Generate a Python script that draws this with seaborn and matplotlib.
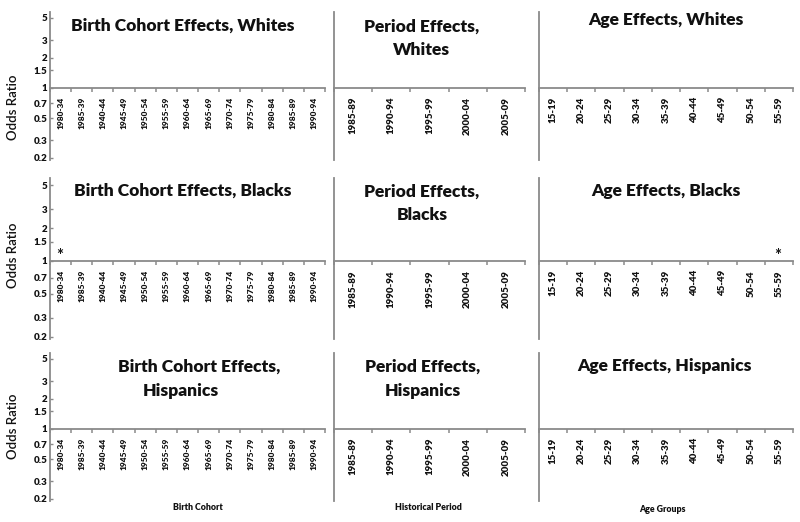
import numpy as np
import matplotlib
matplotlib.use("Agg")
import matplotlib.pyplot as plt
import seaborn as sns
from matplotlib.ticker import FixedLocator, NullLocator, FixedFormatter, NullFormatter

# ---- data (categories and labels) ----
cohorts = ["1980-34", "1985-39", "1940-44", "1945-49", "1950-54", "1955-59", "1960-64",
           "1965-69", "1970-74", "1975-79", "1980-84", "1985-89", "1990-94"]
periods = ["1985-89", "1990-94", "1995-99", "2000-04", "2005-09"]
ages = ["15-19", "20-24", "25-29", "30-34", "35-39", "40-44", "45-49", "50-54", "55-59"]
groups = ["Whites", "Blacks", "Hispanics"]
y_ticks = [0.2, 0.3, 0.5, 0.7, 1, 1.5, 2, 3, 5]
y_tick_labels = ["0.2", "0.3", "0.5", "0.7", "1", "1.5", "2", "3", "5"]
reference_or = 1.0
# significant categories marked with an asterisk
sig_cohort = {"Whites": [], "Blacks": ["1980-34"], "Hispanics": []}
sig_period = {"Whites": [], "Blacks": [], "Hispanics": []}
sig_age = {"Whites": [], "Blacks": ["55-59"], "Hispanics": []}

titles = {
    ("cohort", "Whites"): ["Birth Cohort Effects, Whites"],
    ("cohort", "Blacks"): ["Birth Cohort Effects, Blacks"],
    ("cohort", "Hispanics"): ["Birth Cohort Effects,", "Hispanics"],
    ("period", "Whites"): ["Period Effects,", "Whites"],
    ("period", "Blacks"): ["Period Effects,", "Blacks"],
    ("period", "Hispanics"): ["Period Effects,", "Hispanics"],
    ("age", "Whites"): ["Age Effects, Whites"],
    ("age", "Blacks"): ["Age Effects, Blacks"],
    ("age", "Hispanics"): ["Age Effects, Hispanics"],
}

sns.set_theme(style="white")
plt.rcParams["font.family"] = ["Lato", "DejaVu Sans"]
plt.rcParams["font.weight"] = "heavy"

W, H = 800, 522
fig = plt.figure(figsize=(W / 100, H / 100), dpi=100)

# layout in pixels
cols = {"cohort": (50, 325), "period": (334, 525), "age": (539, 793)}
rows = [(11.5, 160.2), (178, 339.4), (352.5, 501.2)]
ylim = (0.19, 5.8)
GRAY = "#8a8a8a"
INK = "#111111"

title_pos = {
    ("cohort", 0): [(183, 26)], ("cohort", 1): [(183, 191)], ("cohort", 2): [(199, 367), (181, 391)],
    ("period", 0): [(422, 27), (422, 50)], ("period", 1): [(422, 192), (422, 215)],
    ("period", 2): [(423, 367), (423, 391)],
    ("age", 0): [(666, 20)], ("age", 1): [(666, 191)], ("age", 2): [(664, 366)],
}

def fx(px):
    return px / W

def fy(py):
    return 1 - py / H

for r, grp in enumerate(groups):
    top, bot = rows[r]
    for key, cats, sig, lab_size in [("cohort", cohorts, sig_cohort, 6.0),
                                     ("period", periods, sig_period, 7.0),
                                     ("age", ages, sig_age, 7.0)]:
        x0, x1 = cols[key]
        ax = fig.add_axes([fx(x0), fy(bot), (x1 - x0) / W, (bot - top) / H])
        ax.set_facecolor("none")
        ax.set_yscale("log")
        ax.set_ylim(*ylim)
        n = len(cats)
        ax.set_xlim(-0.5, n - 0.5)
        sns.despine(ax=ax, top=True, right=True)
        ax.spines["bottom"].set_position(("data", reference_or))
        for s in ("left", "bottom"):
            ax.spines[s].set_color(GRAY)
            ax.spines[s].set_linewidth(1.3)
        # x axis: labels at category centres, tick marks between categories
        ax.xaxis.set_major_locator(FixedLocator(range(n)))
        ax.xaxis.set_major_formatter(FixedFormatter(cats))
        ax.xaxis.set_minor_locator(FixedLocator(np.arange(n + 1) - 0.5))
        ax.xaxis.set_minor_formatter(NullFormatter())
        ax.tick_params(axis="x", which="major", length=0, pad=6.5,
                       labelsize=lab_size, labelrotation=90, labelcolor=INK)
        ax.tick_params(axis="x", which="minor", length=3, width=1.1,
                       direction="out", color=GRAY, bottom=True)
        # y axis
        ax.yaxis.set_minor_locator(NullLocator())
        if key == "cohort":
            ax.yaxis.set_major_locator(FixedLocator(y_ticks))
            ax.yaxis.set_major_formatter(FixedFormatter(y_tick_labels))
            ax.tick_params(axis="y", which="major", length=2.5, width=1, direction="in",
                           color=GRAY, left=True, pad=2, labelsize=7, labelcolor=INK)
        else:
            ax.yaxis.set_major_locator(NullLocator())
        ax.grid(False)
        # significance asterisks
        for c in sig[grp]:
            ax.annotate("*", xy=(cats.index(c), reference_or), xytext=(-1, -2),
                        textcoords="offset points", ha="center", va="bottom",
                        fontsize=12, fontweight="bold", color=INK)
        # titles
        for line, (px, py) in zip(titles[(key, grp)], title_pos[(key, r)]):
            fig.text(fx(px), fy(py), line, ha="center", va="center",
                     fontsize=12.5, fontweight="heavy", color=INK)

# axis labels
for py in (107, 255, 426):
    fig.text(fx(13), fy(py), "Odds Ratio", rotation=90, ha="center", va="center",
             fontsize=9.5, fontweight="semibold", color=INK)
fig.text(fx(198), fy(507), "Birth Cohort", ha="center", va="center", fontsize=6.3, fontweight="heavy", color=INK)
fig.text(fx(428), fy(507), "Historical Period", ha="center", va="center", fontsize=6.3, fontweight="heavy", color=INK)
fig.text(fx(662), fy(510), "Age Groups", ha="center", va="center", fontsize=6.3, fontweight="heavy", color=INK)

fig.savefig("out.png", dpi=100)
